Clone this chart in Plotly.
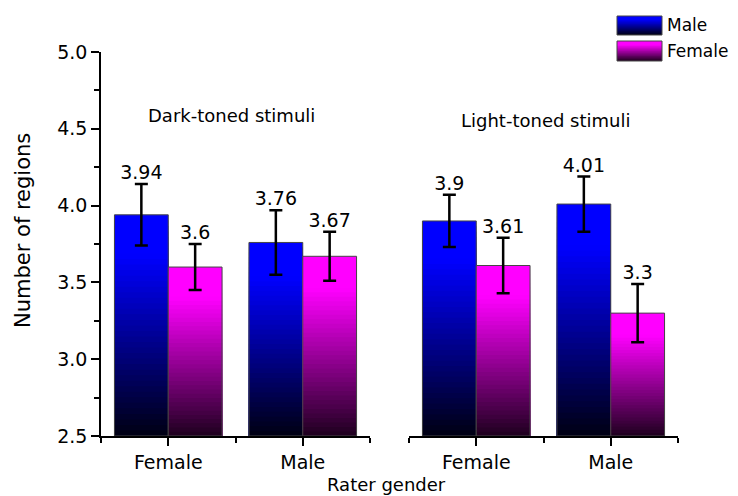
import plotly.graph_objects as go

# ---------------- data ----------------
categories = ["Female", "Male"]          # rater gender
panel_titles = ["Dark-toned stimuli", "Light-toned stimuli"]
series_names = ["Male", "Female"]

dark_male = [3.94, 3.76]
dark_female = [3.60, 3.67]
dark_male_err = [0.20, 0.21]
dark_female_err = [0.15, 0.16]

light_male = [3.90, 4.01]
light_female = [3.61, 3.30]
light_male_err = [0.17, 0.18]
light_female_err = [0.18, 0.19]

y_min, y_max = 2.5, 5.0
y_ticks = [2.5, 3.0, 3.5, 4.0, 4.5, 5.0]

# ---------------- styling ----------------
FONT = "DejaVu Sans, Arial, sans-serif"
TOP_COLORS = {"Male": (0, 0, 255), "Female": (255, 0, 255)}
BOTTOM_COLORS = {"Male": (0, 0, 18), "Female": (30, 0, 30)}
N_SEG = 40
BAR_W = 0.4
OFFSETS = {"Male": -BAR_W, "Female": 0.0}


def grad_color(name, f):
    """f = fraction from top (0) to bottom (1)."""
    top = TOP_COLORS[name]
    bot = BOTTOM_COLORS[name]
    t = 0.0 if f < 0.18 else (f - 0.18) / 0.82
    c = [round(top[i] + (bot[i] - top[i]) * t) for i in range(3)]
    return f"rgb({c[0]},{c[1]},{c[2]})"


fig = go.Figure()
xpos = list(range(len(categories)))

panels = [
    ("x", {"Male": (dark_male, dark_male_err), "Female": (dark_female, dark_female_err)}),
    ("x2", {"Male": (light_male, light_male_err), "Female": (light_female, light_female_err)}),
]

for xa, data in panels:
    for name in series_names:
        vals, errs = data[name]
        heights = [v - y_min for v in vals]
        # gradient: overlapping bars, each one shorter and darker
        for k in range(N_SEG):
            f = (k + 0.5) / N_SEG
            fig.add_trace(go.Bar(
                x=xpos, y=[h * (1 - k / N_SEG) for h in heights], base=y_min,
                width=BAR_W, offset=OFFSETS[name],
                marker=dict(color=grad_color(name, f), line=dict(width=0)),
                xaxis=xa, yaxis="y", showlegend=False, hoverinfo="skip"))
        # outline
        fig.add_trace(go.Bar(
            x=xpos, y=heights, base=y_min, width=BAR_W, offset=OFFSETS[name],
            marker=dict(color="rgba(0,0,0,0)", line=dict(color="rgb(70,70,70)", width=1)),
            xaxis=xa, yaxis="y", showlegend=False, name=name,
            customdata=vals, hovertemplate="%{customdata}<extra>" + name + "</extra>"))
        centers = [x + OFFSETS[name] + BAR_W / 2 for x in xpos]
        # error bars
        fig.add_trace(go.Scatter(
            x=centers, y=vals, mode="markers",
            marker=dict(size=1, color="rgba(0,0,0,0)"),
            error_y=dict(type="data", array=errs, color="black", thickness=2.5, width=6.5),
            xaxis=xa, yaxis="y", showlegend=False, hoverinfo="skip"))
        # value labels
        fig.add_trace(go.Scatter(
            x=centers, y=[v + e for v, e in zip(vals, errs)], mode="text",
            text=[f"{v:g}" for v in vals], textposition="top center",
            textfont=dict(family=FONT, size=19, color="black"),
            xaxis=xa, yaxis="y", showlegend=False, hoverinfo="skip",
            cliponaxis=False))

# ---------------- layout ----------------
# the page body has an 8px margin: figure is drawn at (8, 8) in the window
OX, OY = 8, 8
W, H = 738 - OX, 496 - OY
L, T = 101 - OX, 52 - OY
R = W - (678 - OX)
B = H - (436 - OY)
pw, ph = W - L - R, H - T - B


def px_to_paper_x(px):      # px: window pixel
    return (px - OX - L) / pw


def px_to_paper_y(py):
    return (H - B - (py - OY)) / ph


xaxis_common = dict(
    range=[-0.5, 1.5], tickvals=xpos, ticktext=categories,
    ticks="outside", ticklen=8, tickwidth=1.5, tickcolor="black",
    showline=True, linecolor="black", linewidth=1.5,
    showgrid=False, zeroline=False, fixedrange=True, automargin=False,
    tickfont=dict(family=FONT, size=19, color="black"),
    minor=dict(tickvals=[-0.5, 0.5, 1.5], ticks="outside", ticklen=5,
               tickwidth=1.5, tickcolor="black", showgrid=False),
    anchor="y",
)

fig.update_layout(
    template="none",
    width=W, height=H,
    margin=dict(l=L, r=R, t=T, b=B),
    paper_bgcolor="white", plot_bgcolor="white",
    barmode="overlay",
    showlegend=False,
    font=dict(family=FONT, color="black"),
    xaxis=dict(domain=[0, (370 - 101) / (678 - 101)], **xaxis_common),
    xaxis2=dict(domain=[(409 - 101) / (678 - 101), 1], **xaxis_common),
    yaxis=dict(
        range=[y_min, y_max], tickvals=y_ticks, ticktext=[f"{v:.1f}" for v in y_ticks],
        ticks="outside", ticklen=8, tickwidth=1.5, tickcolor="black",
        showline=True, linecolor="black", linewidth=1.5,
        showgrid=False, zeroline=False, fixedrange=True, automargin=False,
        tickfont=dict(family=FONT, size=19, color="black"),
        minor=dict(dtick=0.25, tick0=2.5, ticks="outside", ticklen=5,
                   tickwidth=1.5, tickcolor="black", showgrid=False),
        anchor="x",
    ),
)

annotations = [
    dict(text=panel_titles[0], x=px_to_paper_x(231), y=px_to_paper_y(115),
         xref="paper", yref="paper", showarrow=False, xanchor="center", yanchor="middle",
         font=dict(family=FONT, size=18, color="black")),
    dict(text=panel_titles[1], x=px_to_paper_x(546), y=px_to_paper_y(120),
         xref="paper", yref="paper", showarrow=False, xanchor="center", yanchor="middle",
         font=dict(family=FONT, size=18, color="black")),
    dict(text="Number of regions", x=px_to_paper_x(23), y=px_to_paper_y(231),
         xref="paper", yref="paper", showarrow=False, textangle=-90,
         xanchor="center", yanchor="middle",
         font=dict(family=FONT, size=21, color="black")),
    dict(text="Rater gender", x=px_to_paper_x(386), y=px_to_paper_y(484),
         xref="paper", yref="paper", showarrow=False, xanchor="center", yanchor="middle",
         font=dict(family=FONT, size=18, color="black")),
]

# legend (gradient swatches drawn as shapes)
shapes = []
legend_boxes = [("Male", 16, 35), ("Female", 41, 61)]
lx0, lx1 = 617, 662
NS = 24
for name, y0, y1 in legend_boxes:
    for k in range(NS):
        f = (k + 0.5) / NS
        ya = y0 + (y1 - y0) * k / NS
        shapes.append(dict(type="rect", xref="paper", yref="paper",
                           x0=px_to_paper_x(lx0), x1=px_to_paper_x(lx1),
                           y0=px_to_paper_y(ya), y1=px_to_paper_y(y1),
                           fillcolor=grad_color(name, f), line=dict(width=0), layer="above"))
    shapes.append(dict(type="rect", xref="paper", yref="paper",
                       x0=px_to_paper_x(lx0), x1=px_to_paper_x(lx1),
                       y0=px_to_paper_y(y0), y1=px_to_paper_y(y1),
                       fillcolor="rgba(0,0,0,0)", line=dict(color="rgb(70,70,70)", width=1),
                       layer="above"))
    annotations.append(dict(text=name, x=px_to_paper_x(665), y=px_to_paper_y((y0 + y1) / 2),
                            xref="paper", yref="paper", showarrow=False,
                            xanchor="left", yanchor="middle",
                            font=dict(family=FONT, size=17, color="black")))

fig.update_layout(annotations=annotations, shapes=shapes)

fig.write_html("out.html")
